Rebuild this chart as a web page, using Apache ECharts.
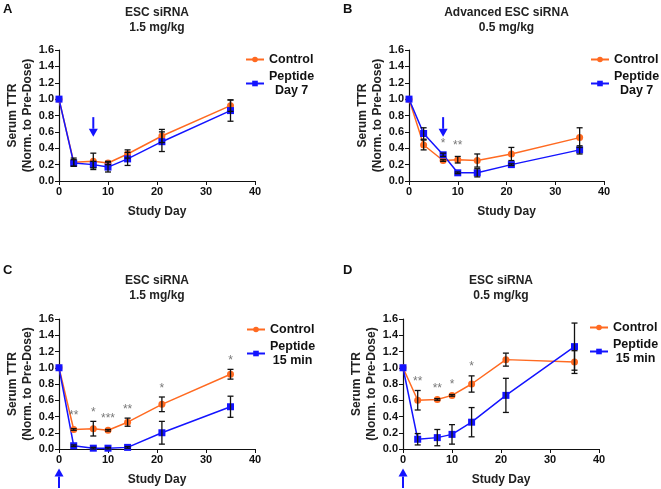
<!DOCTYPE html>
<html>
<head>
<meta charset="utf-8">
<script src="https://cdn.jsdelivr.net/npm/echarts@6/dist/echarts.min.js"></script>
<style>
  html, body { margin: 0; padding: 0; background: #fff; }
  #chart { width: 661px; height: 489px; }
</style>
</head>
<body>
<div id="chart"></div>
<script>
// study days (shared by all panels)
var days = [0, 3, 7, 10, 14, 21, 35];

// panel A: ESC siRNA 1.5 mg/kg, peptide day 7
var ctrlA = [1.0, 0.23, 0.24, 0.22, 0.33, 0.55, 0.92];
var ctrlAErr = [0, 0.05, 0.10, 0.02, 0.05, 0.08, 0.07];
var pepA = [1.0, 0.22, 0.20, 0.17, 0.27, 0.48, 0.86];
var pepAErr = [0, 0.04, 0.04, 0.06, 0.08, 0.12, 0.13];

// panel B: advanced ESC siRNA 0.5 mg/kg, peptide day 7
var ctrlB = [1.0, 0.44, 0.25, 0.26, 0.25, 0.33, 0.53];
var ctrlBErr = [0, 0.06, 0.01, 0.04, 0.08, 0.08, 0.12];
var pepB = [1.0, 0.58, 0.32, 0.10, 0.10, 0.20, 0.38];
var pepBErr = [0, 0.07, 0.02, 0.01, 0.05, 0.01, 0.05];

// panel C: ESC siRNA 1.5 mg/kg, peptide 15 min
var ctrlC = [1.0, 0.24, 0.25, 0.23, 0.33, 0.55, 0.92];
var ctrlCErr = [0, 0.01, 0.09, 0.01, 0.05, 0.09, 0.06];
var pepC = [1.0, 0.04, 0.01, 0.01, 0.02, 0.20, 0.52];
var pepCErr = [0, 0.01, 0.01, 0.01, 0.01, 0.14, 0.13];

// panel D: ESC siRNA 0.5 mg/kg, peptide 15 min
var ctrlD = [1.0, 0.60, 0.61, 0.66, 0.80, 1.10, 1.07];
var ctrlDErr = [0, 0.12, 0.01, 0.01, 0.10, 0.08, 0.14];
var pepD = [1.0, 0.12, 0.14, 0.18, 0.33, 0.66, 1.26];
var pepDErr = [0, 0.07, 0.10, 0.12, 0.18, 0.21, 0.29];

// significance marks [day, y, text]
var starsA = [];
var starsB = [[7, 0.46, '*'], [10, 0.43, '**']];
var starsC = [[3, 0.41, '**'], [7, 0.45, '*'], [10, 0.37, '***'], [14, 0.49, '**'], [21, 0.74, '*'], [35, 1.09, '*']];
var starsD = [[3, 0.83, '**'], [7, 0.74, '**'], [10, 0.79, '*'], [14, 1.01, '*']];

// peptide dosing arrows [day, yFrom, yTo]
var arrowA = [7, 0.78, 0.54];
var arrowB = [7, 0.78, 0.54];
var arrowC = [0, -0.48, -0.24];
var arrowD = [0, -0.48, -0.24];

var titles = ['ESC siRNA\n1.5 mg/kg', 'Advanced ESC siRNA\n0.5 mg/kg', 'ESC siRNA\n1.5 mg/kg', 'ESC siRNA\n0.5 mg/kg'];
var letters = ['A', 'B', 'C', 'D'];
var pepNames = ['Peptide\nDay 7', 'Peptide\nDay 7', 'Peptide\n15 min', 'Peptide\n15 min'];

var FONT = '"Liberation Sans", Arial, sans-serif';
var ORANGE = '#ff6a21';
var BLUE = '#1414ff';

var panels = [
  { ctrl: ctrlA, ce: ctrlAErr, pep: pepA, pe: pepAErr, stars: starsA, arrow: arrowA },
  { ctrl: ctrlB, ce: ctrlBErr, pep: pepB, pe: pepBErr, stars: starsB, arrow: arrowB },
  { ctrl: ctrlC, ce: ctrlCErr, pep: pepC, pe: pepCErr, stars: starsC, arrow: arrowC },
  { ctrl: ctrlD, ce: ctrlDErr, pep: pepD, pe: pepDErr, stars: starsD, arrow: arrowD }
];

var grids = [
  { left: 59, top: 50, width: 196, height: 131 },
  { left: 409, top: 50, width: 195, height: 131 },
  { left: 59, top: 319, width: 196, height: 130 },
  { left: 403, top: 319, width: 196, height: 130 }
];
var legendPos = [
  { left: 245, top: 53 },
  { left: 590, top: 53 },
  { left: 246, top: 323 },
  { left: 589, top: 321 }
];

function pts(ys, errs) {
  return days.map(function (d, i) { return [d, ys[i], errs[i]]; });
}

function errorBars(params, api) {
  var x = api.value(0), y = api.value(1), e = api.value(2);
  if (!e) return null;
  var hi = api.coord([x, y + e]);
  var lo = api.coord([x, y - e]);
  var cap = 3;
  var st = { stroke: '#111', lineWidth: 1.3 };
  return {
    type: 'group',
    children: [
      { type: 'line', shape: { x1: hi[0], y1: hi[1], x2: lo[0], y2: lo[1] }, style: st },
      { type: 'line', shape: { x1: hi[0] - cap, y1: hi[1], x2: hi[0] + cap, y2: hi[1] }, style: st },
      { type: 'line', shape: { x1: lo[0] - cap, y1: lo[1], x2: lo[0] + cap, y2: lo[1] }, style: st }
    ]
  };
}

var option = {
  animation: false,
  textStyle: { fontFamily: FONT },
  title: [],
  legend: [],
  grid: grids,
  xAxis: [],
  yAxis: [],
  series: []
};

grids.forEach(function (g, i) {
  var p = panels[i];
  option.title.push({
    text: titles[i],
    left: g.left + g.width / 2,
    top: i < 2 ? 5 : 273,
    padding: 0,
    textAlign: 'center',
    textStyle: { fontFamily: FONT, fontSize: 12, fontWeight: 'bold', color: '#222', lineHeight: 15 }
  });
  option.title.push({
    text: letters[i],
    left: i % 2 === 0 ? 3 : 343,
    top: i < 2 ? 3 : 264,
    padding: 0,
    textStyle: { fontFamily: FONT, fontSize: 13, fontWeight: 'bold', color: '#111' }
  });
  option.legend.push({
    orient: 'vertical',
    left: legendPos[i].left,
    top: legendPos[i].top,
    padding: 0,
    itemWidth: 18,
    itemHeight: 7,
    itemGap: 4,
    data: ['Control', pepNames[i]],
    formatter: function (name) {
      return name.split('\n').map(function (s) { return '{a|' + s + '}'; }).join('\n');
    },
    textStyle: {
      fontFamily: FONT, fontSize: 12.5, fontWeight: 'bold', color: '#111',
      rich: { a: { fontFamily: FONT, fontSize: 12.5, fontWeight: 'bold', color: '#111', align: 'center', lineHeight: 14 } }
    }
  });
  option.xAxis.push({
    gridIndex: i, type: 'value', min: 0, max: 40, interval: 10,
    name: 'Study Day', nameLocation: 'middle', nameGap: 25,
    nameTextStyle: { fontFamily: FONT, fontSize: 12, fontWeight: 'bold', color: '#222' },
    axisLine: { lineStyle: { color: '#111', width: 1.2 } },
    axisTick: { length: 4, lineStyle: { color: '#111' } },
    axisLabel: { margin: 5, fontFamily: FONT, fontSize: 11, fontWeight: 'bold', color: '#111' },
    splitLine: { show: false }
  });
  option.yAxis.push({
    gridIndex: i, type: 'value', min: 0, max: 1.6, interval: 0.2,
    name: 'Serum TTR\n(Norm. to Pre-Dose)', nameLocation: 'middle', nameGap: 23, nameRotate: 90,
    nameTextStyle: { fontFamily: FONT, fontSize: 12, fontWeight: 'bold', color: '#222', lineHeight: 15 },
    axisLine: { show: true, lineStyle: { color: '#111', width: 1.2 } },
    axisTick: { show: true, length: 4, lineStyle: { color: '#111' } },
    axisLabel: { margin: 5, fontFamily: FONT, fontSize: 11, fontWeight: 'bold', color: '#111',
      formatter: function (v) { return v.toFixed(1); } },
    splitLine: { show: false }
  });
  option.series.push({
    name: 'Control', type: 'line', xAxisIndex: i, yAxisIndex: i,
    data: pts(p.ctrl, p.ce), symbol: 'circle', symbolSize: 7,
    lineStyle: { color: ORANGE, width: 1.5 }, itemStyle: { color: ORANGE }, z: 3
  });
  option.series.push({
    name: pepNames[i], type: 'line', xAxisIndex: i, yAxisIndex: i,
    data: pts(p.pep, p.pe), symbol: 'rect', symbolSize: 7,
    lineStyle: { color: BLUE, width: 1.5 }, itemStyle: { color: BLUE }, z: 3
  });
  option.series.push({
    type: 'custom', xAxisIndex: i, yAxisIndex: i, renderItem: errorBars,
    data: pts(p.ctrl, p.ce).concat(pts(p.pep, p.pe)), z: 4, silent: true
  });
  option.series.push({
    type: 'scatter', xAxisIndex: i, yAxisIndex: i, symbolSize: 0, silent: true,
    data: p.stars.map(function (s) { return { value: [s[0], s[1]], name: s[2] }; }),
    label: { show: true, position: 'inside', formatter: '{b}', fontFamily: FONT,
      fontSize: 12, color: '#555', verticalAlign: 'middle' },
    z: 5
  });
});

var chart = echarts.init(document.getElementById('chart'), null, { renderer: 'canvas' });
chart.setOption(option);

// blue dosing arrows placed with the axes' own scales
var gfx = [];
panels.forEach(function (p, i) {
  var a = p.arrow;
  var from = chart.convertToPixel({ xAxisIndex: i, yAxisIndex: i }, [a[0], a[1]]);
  var to = chart.convertToPixel({ xAxisIndex: i, yAxisIndex: i }, [a[0], a[2]]);
  var dir = to[1] > from[1] ? 1 : -1;
  var head = 8;
  gfx.push({
    type: 'line',
    shape: { x1: from[0], y1: from[1], x2: to[0], y2: to[1] - dir * head },
    style: { stroke: BLUE, lineWidth: 2 }
  });
  gfx.push({
    type: 'polygon',
    shape: { points: [[to[0] - 4.5, to[1] - dir * head], [to[0] + 4.5, to[1] - dir * head], [to[0], to[1]]] },
    style: { fill: BLUE }
  });
});
chart.setOption({ graphic: gfx });
</script>
</body>
</html>
